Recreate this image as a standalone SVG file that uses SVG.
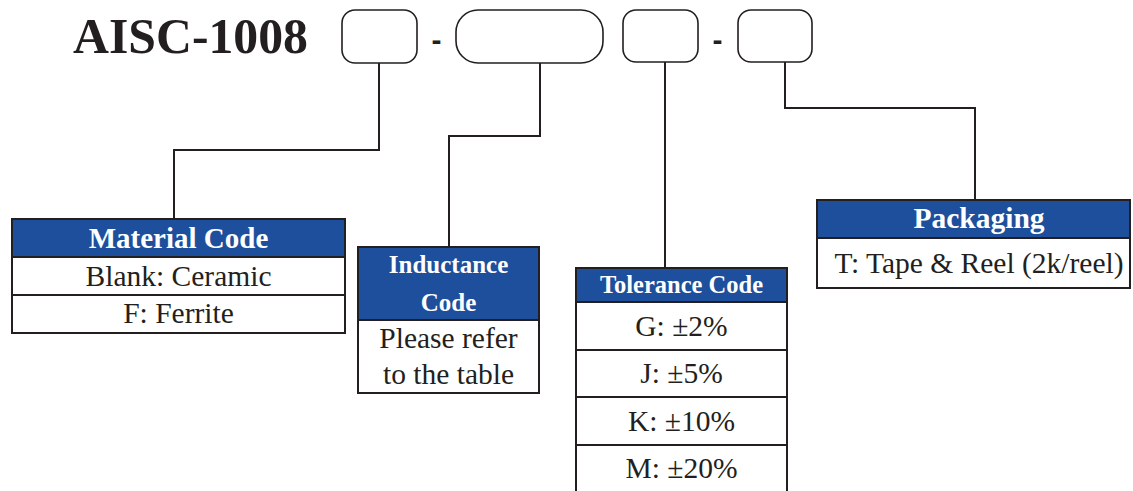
<svg xmlns="http://www.w3.org/2000/svg" width="1133" height="491" viewBox="0 0 1133 491" font-family="Liberation Serif, serif">
<style>
.slot{fill:#fff;stroke:#231f20;stroke-width:1.6}
.hdr{fill:#1d4f9c;stroke:#231f20;stroke-width:2}
.cell{fill:#fff;stroke:#231f20;stroke-width:2}
.conn{fill:none;stroke:#231f20;stroke-width:2}
.ht{font-weight:bold;fill:#fff;text-anchor:middle}
.bt{fill:#231f20;text-anchor:middle;font-size:29.5px}
.dash{font-size:30px;font-weight:bold;fill:#231f20;text-anchor:middle}
</style>
<rect width="1133" height="491" fill="#fff"/>
<g id="title">
<text x="73" y="53" font-weight="bold" font-size="50" fill="#231f20" textLength="235" lengthAdjust="spacingAndGlyphs">AISC-1008</text>
</g>
<g id="slots">
<rect class="slot" x="342" y="10" width="75" height="53" rx="13"/>
<text class="dash" x="436.5" y="50" font-family="Liberation Sans, sans-serif">-</text>
<rect class="slot" x="456" y="10" width="147" height="53" rx="22"/>
<rect class="slot" x="623" y="10" width="75" height="52" rx="13"/>
<text class="dash" x="717.5" y="50" font-family="Liberation Sans, sans-serif">-</text>
<rect class="slot" x="738" y="10" width="74" height="52" rx="13"/>
</g>
<g id="connectors">
<polyline class="conn" points="379,63 379,150 174,150 174,219"/>
<polyline class="conn" points="540,63 540,136 449,136 449,247"/>
<polyline class="conn" points="665,62 665,268"/>
<polyline class="conn" points="785,62 785,108 975,108 975,200"/>
</g>
<g id="material">
<rect class="hdr" x="12" y="219" width="333" height="38"/>
<rect class="cell" x="12" y="257" width="333" height="38"/>
<rect class="cell" x="12" y="295" width="333" height="38"/>
<text class="ht" x="178.5" y="248" font-size="29">Material Code</text>
<text class="bt" x="178.5" y="286">Blank: Ceramic</text>
<text class="bt" x="178.5" y="323">F: Ferrite</text>
</g>
<g id="inductance">
<rect class="hdr" x="358" y="247" width="181" height="73"/>
<rect class="cell" x="358" y="320" width="181" height="73"/>
<text class="ht" x="448.5" y="273" font-size="25">Inductance</text>
<text class="ht" x="448.5" y="311" font-size="25">Code</text>
<text class="bt" x="448.5" y="348">Please refer</text>
<text class="bt" x="448.5" y="384">to the table</text>
</g>
<g id="tolerance">
<rect class="hdr" x="576" y="268" width="211" height="34"/>
<rect class="cell" x="576" y="302" width="211" height="48"/>
<rect class="cell" x="576" y="350" width="211" height="47"/>
<rect class="cell" x="576" y="397" width="211" height="48"/>
<rect class="cell" x="576" y="445" width="211" height="50"/>
<text class="ht" x="681.5" y="293" font-size="24.5">Tolerance Code</text>
<text class="bt" x="681.5" y="336">G: ±2%</text>
<text class="bt" x="681.5" y="383">J: ±5%</text>
<text class="bt" x="681.5" y="431">K: ±10%</text>
<text class="bt" x="681.5" y="478">M: ±20%</text>
</g>
<g id="packaging">
<rect class="hdr" x="817" y="200" width="313" height="38"/>
<rect class="cell" x="817" y="238" width="313" height="50"/>
<text class="ht" x="979" y="228" font-size="29.5">Packaging</text>
<text class="bt" x="979" y="273" font-size="30">T: Tape &amp; Reel (2k/reel)</text>
</g>
</svg>
